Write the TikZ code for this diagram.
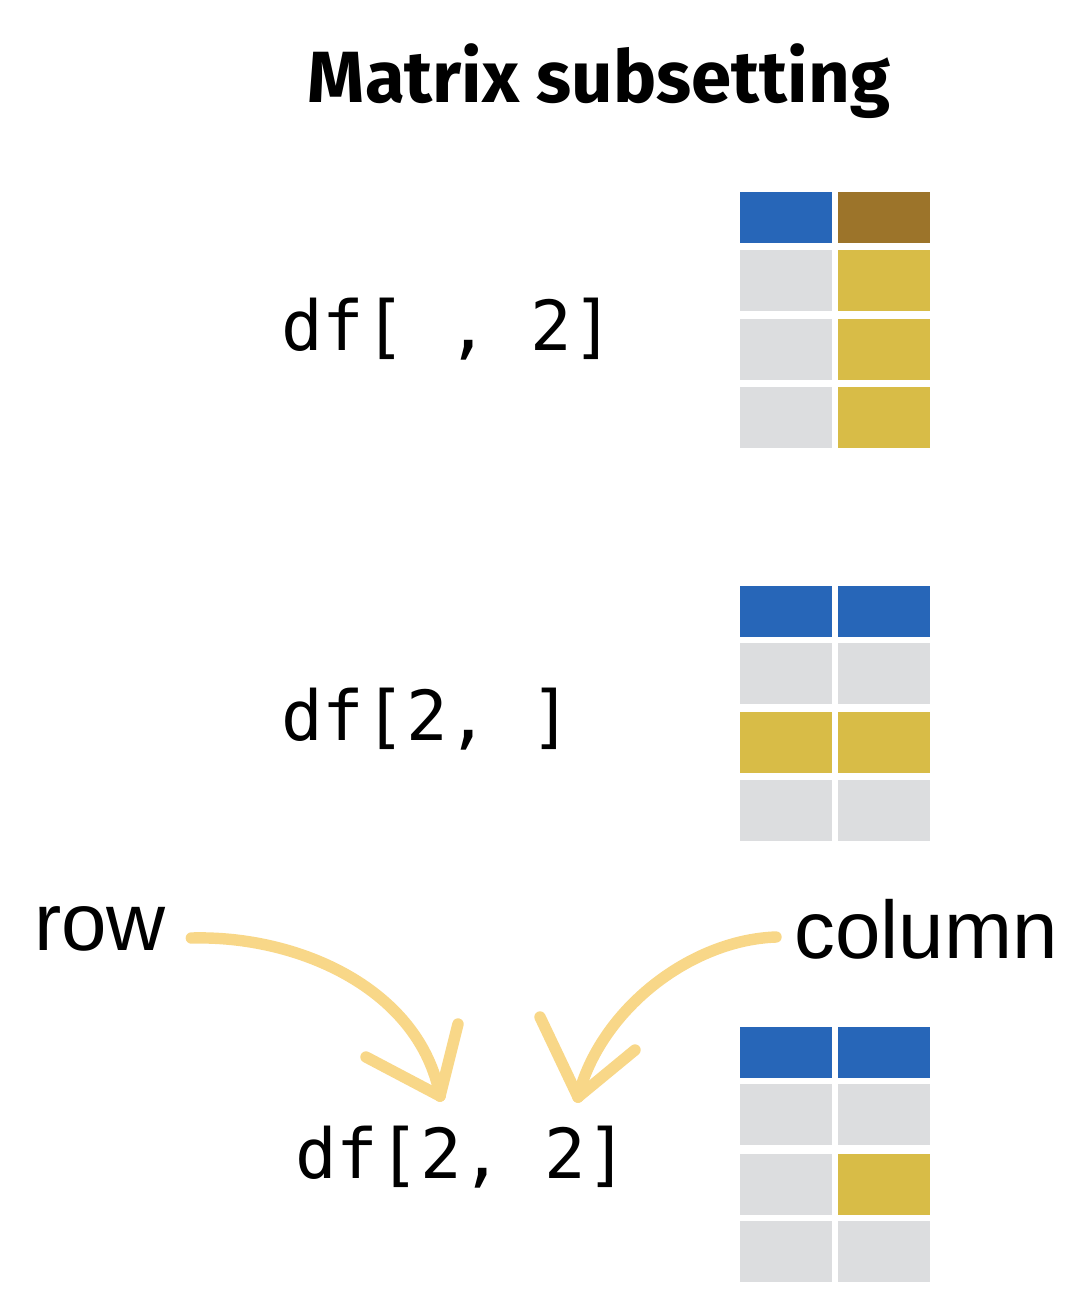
\documentclass[tikz,border=0pt]{standalone}
\usepackage{fontspec}
\usepackage{xcolor}
\usetikzlibrary{arrows.meta,positioning}
\newfontfamily\titlefont{Fira Sans}
\newfontfamily\codefont{DejaVu Sans Mono}
\newfontfamily\labelfont{Liberation Sans}
\definecolor{hdblue}{HTML}{2766B8}
\definecolor{hdbrown}{HTML}{9C742A}
\definecolor{cellgold}{HTML}{D8BC47}
\definecolor{cellgray}{HTML}{DCDDDF}
\definecolor{brushy}{HTML}{F8D788}
\tikzset{
  code/.style={anchor=base west, inner sep=0pt, font=\codefont\fontsize{39.3}{41}\selectfont},
  word/.style={anchor=base west, inner sep=0pt, font=\labelfont\fontsize{46.5}{48}\selectfont},
  brush/.style={draw=brushy, line width=6.5pt, line cap=round, line join=round},
}

\begin{document}
\begin{tikzpicture}[x=0.02cm,y=-0.02cm]
  \useasboundingbox (0,0) rectangle (1084,1298);
  \node[anchor=base,inner sep=0pt,font=\titlefont\bfseries\fontsize{41.3}{44}\selectfont] (title) at (599,102) {Matrix subsetting};

  % df[ , 2]
  \node[code] (colsel) at (281,350) {df[ , 2]};
  \begin{scope}[shift={(740,192)}]
    \fill[hdblue] (0,0) rectangle (92,51);
    \fill[hdbrown] (98,0) rectangle (190,51);
    \foreach \y/\ca/\cb in {58/cellgray/cellgold,127/cellgray/cellgold,195/cellgray/cellgold}{
      \fill[\ca] (0,\y) rectangle ++(92,61);
      \fill[\cb] (98,\y) rectangle ++(92,61);
    }
  \end{scope}

  % df[2, ]
  \node[code] (rowsel) at (281,740) {df[2, ]};
  \begin{scope}[shift={(740,586)}]
    \fill[hdblue] (0,0) rectangle (92,51);
    \fill[hdblue] (98,0) rectangle (190,51);
    \foreach \y/\ca/\cb in {57/cellgray/cellgray,126/cellgold/cellgold,194/cellgray/cellgray}{
      \fill[\ca] (0,\y) rectangle ++(92,61);
      \fill[\cb] (98,\y) rectangle ++(92,61);
    }
  \end{scope}

  % df[2, 2]
  \node[code] (cellsel) at (295,1178) {df[2, 2]};
  \begin{scope}[shift={(740,1027)}]
    \fill[hdblue] (0,0) rectangle (92,51);
    \fill[hdblue] (98,0) rectangle (190,51);
    \foreach \y/\ca/\cb in {57/cellgray/cellgray,127/cellgray/cellgold,194/cellgray/cellgray}{
      \fill[\ca] (0,\y) rectangle ++(92,61);
      \fill[\cb] (98,\y) rectangle ++(92,61);
    }
  \end{scope}

  % row / column pointers
  \node[word] (row) at (34,950) {row};
  \node[word] (col) at (794,958) {column};
  \coordinate (rowtip) at (440,1096);
  \coordinate (coltip) at (578,1097);
  \draw[brush] ([shift={(25,-12)}]row.base east) .. controls (300,935) and (420,990) .. (rowtip);
  \draw[brush] (rowtip) -- ++(-74,-39);
  \draw[brush] (rowtip) -- ++(18,-72);
  \draw[brush] ([shift={(-18,-21)}]col.base west) .. controls (690,940) and (600,1010) .. (coltip);
  \draw[brush] (coltip) -- ++(-38,-80);
  \draw[brush] (coltip) -- ++(57,-47);
\end{tikzpicture}
\end{document}
